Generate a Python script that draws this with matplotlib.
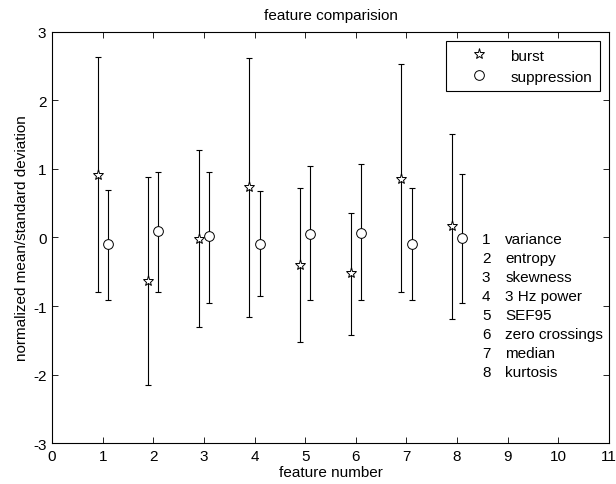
import matplotlib
matplotlib.use("Agg")
import matplotlib.pyplot as plt
import numpy as np

plt.rcParams['font.family'] = ['Liberation Sans', 'DejaVu Sans']
plt.rcParams['axes.unicode_minus'] = False

features = [1, 2, 3, 4, 5, 6, 7, 8]
burst_mean = [0.91, -0.63, -0.02, 0.74, -0.40, -0.52, 0.86, 0.17]
burst_upper = [2.63, 0.89, 1.28, 2.62, 0.72, 0.36, 2.53, 1.51]
burst_lower = [-0.79, -2.16, -1.30, -1.16, -1.53, -1.42, -0.79, -1.19]
supp_mean = [-0.10, 0.09, 0.02, -0.09, 0.05, 0.07, -0.10, -0.01]
supp_upper = [0.70, 0.96, 0.96, 0.68, 1.04, 1.07, 0.72, 0.93]
supp_lower = [-0.91, -0.79, -0.95, -0.86, -0.91, -0.91, -0.91, -0.95]
feature_names = ["variance", "entropy", "skewness", "3 Hz power", "SEF95",
                 "zero crossings", "median", "kurtosis"]

FS = 11

fig = plt.figure(figsize=(6.16, 4.85), dpi=100)
ax = fig.add_axes([0.0844, 0.0845, 0.9042, 0.8475])

x = np.array(features, dtype=float)
bm = np.array(burst_mean); sm = np.array(supp_mean)
berr = [bm - np.array(burst_lower), np.array(burst_upper) - bm]
serr = [sm - np.array(supp_lower), np.array(supp_upper) - sm]

ax.errorbar(x - 0.1, bm, yerr=berr, fmt='none', ecolor='black', elinewidth=0.8,
            capsize=2.5, capthick=0.8)
ax.errorbar(x + 0.1, sm, yerr=serr, fmt='none', ecolor='black', elinewidth=0.8,
            capsize=2.5, capthick=0.8)
ax.plot(x - 0.1, bm, linestyle='none', marker='*', markersize=8,
        markerfacecolor='white', markeredgecolor='black', markeredgewidth=0.7, label='burst')
ax.plot(x + 0.1, sm, linestyle='none', marker='o', markersize=7,
        markerfacecolor='white', markeredgecolor='black', markeredgewidth=0.7,
        label='suppression')

ax.set_xlim(0, 11)
ax.set_ylim(-3, 3)
ax.set_xticks(range(0, 12))
ax.set_yticks(range(-3, 4))
ax.tick_params(direction='in', top=True, right=True, labelsize=FS, length=4, width=0.6, pad=4)
for s in ax.spines.values():
    s.set_linewidth(0.8)

ax.set_xlabel('feature number', fontsize=FS, labelpad=2)
ax.set_ylabel('normalized mean/standard deviation', fontsize=FS, labelpad=3)
ax.set_title('feature comparision', fontsize=FS, pad=9)

leg = ax.legend(loc='upper right', fontsize=FS, fancybox=False, framealpha=1,
                edgecolor='black', borderaxespad=0.6, handlelength=3.3,
                handletextpad=0.4, borderpad=0.5, labelspacing=0.45)
leg.get_frame().set_linewidth(0.8)

for i, name in enumerate(feature_names):
    yv = -0.025 - i * 0.277
    ax.text(8.49, yv, str(features[i]), fontsize=FS, va='center', ha='left')
    ax.text(8.95, yv, name, fontsize=FS, va='center', ha='left')

fig.savefig('out.png', dpi=100)
